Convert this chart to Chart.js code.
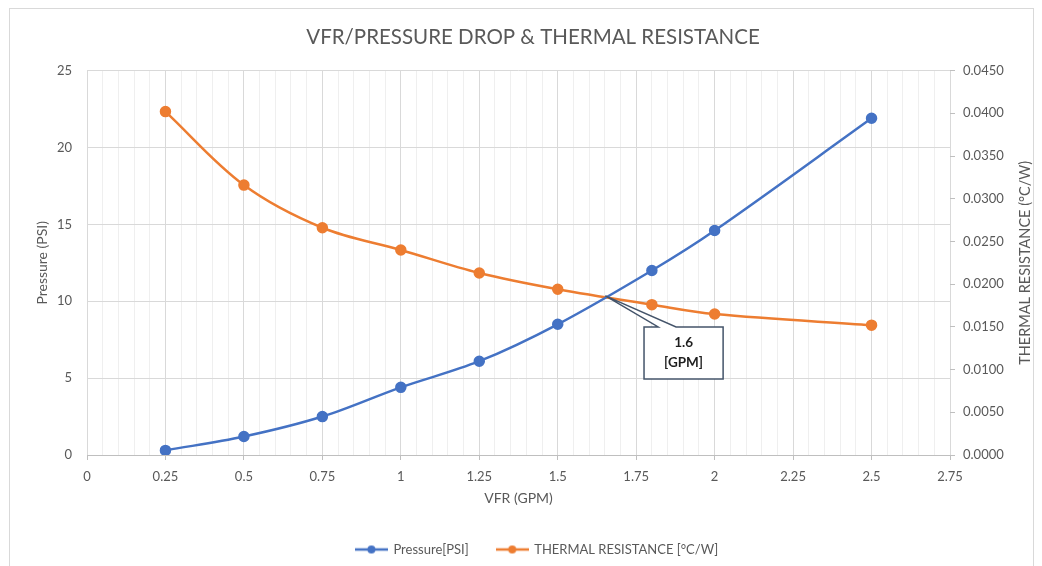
<!DOCTYPE html>
<html>
<head>
<meta charset="utf-8">
<script src="https://cdn.jsdelivr.net/npm/chart.js@4.4.0/dist/chart.umd.min.js"></script>
<style>
  body { margin: 0; background: #ffffff; }
  #frame { position: absolute; left: 9px; top: 8px; width: 1023px; height: 570px; border: 1px solid #d9d9d9; }
  #wrap { position: absolute; left: 0; top: 0; width: 1042px; height: 566px; }
</style>
</head>
<body>
<div id="frame"></div>
<div id="wrap"><canvas id="chart"></canvas></div>
<script>
// values
const vfr = [0.25, 0.5, 0.75, 1, 1.25, 1.5, 1.8, 2, 2.5];           // GPM
const pressure = [0.3, 1.2, 2.5, 4.4, 6.1, 8.5, 12.0, 14.6, 21.9];   // PSI
const thermal = [0.0402, 0.0316, 0.0266, 0.0240, 0.0213, 0.0194, 0.0176, 0.0165, 0.0152]; // °C/W

const BLUE = '#4472C4';
const ORANGE = '#ED7D31';
const GREY_TXT = '#595959';

Chart.defaults.font.family = 'Lato, "Open Sans", sans-serif';
Chart.defaults.color = GREY_TXT;

// legend marker: short line with a dot in the middle, like excel
function legendMark(color) {
  const c = document.createElement('canvas');
  c.width = 33; c.height = 10;
  const g = c.getContext('2d');
  g.strokeStyle = color; g.lineWidth = 2.5;
  g.beginPath(); g.moveTo(0, 5); g.lineTo(33, 5); g.stroke();
  g.fillStyle = color;
  g.beginPath(); g.arc(16.5, 5, 4, 0, Math.PI * 2); g.fill();
  return c;
}

function isMajor(v) {
  return Math.abs(Math.round(v / 0.25) * 0.25 - v) < 1e-6;
}

// callout box pointing at where the curves cross (data units)
const callout = {
  tip: { x: 1.652, y: 10.35 },
  box: { x0: 1.775, x1: 2.027, yTop: 8.33, yBot: 4.95 },
  base: [1.82, 1.877],
  lines: ['1.6', '[GPM]']
};

const calloutPlugin = {
  id: 'callout',
  afterDatasetsDraw(chart) {
    const { ctx } = chart;
    const xs = chart.scales.x, ys = chart.scales.y;
    const X = v => xs.getPixelForValue(v), Y = v => ys.getPixelForValue(v);
    const l = X(callout.box.x0), r = X(callout.box.x1);
    const t = Y(callout.box.yTop), b = Y(callout.box.yBot);
    ctx.save();
    ctx.beginPath();
    ctx.moveTo(l, t);
    ctx.lineTo(X(callout.base[0]), t);
    ctx.lineTo(X(callout.tip.x), Y(callout.tip.y));
    ctx.lineTo(X(callout.base[1]), t);
    ctx.lineTo(r, t);
    ctx.lineTo(r, b);
    ctx.lineTo(l, b);
    ctx.closePath();
    ctx.fillStyle = '#ffffff';
    ctx.fill();
    ctx.strokeStyle = '#44546A';
    ctx.lineWidth = 1.5;
    ctx.stroke();
    ctx.fillStyle = '#1f1f1f';
    ctx.font = 'bold 13.5px Lato, "Open Sans", sans-serif';
    ctx.textAlign = 'center';
    ctx.textBaseline = 'middle';
    const cx = (l + r) / 2, cy = (t + b) / 2;
    ctx.fillText(callout.lines[0], cx, cy - 10);
    ctx.fillText(callout.lines[1], cx, cy + 10);
    ctx.restore();
  }
};

// right axis title reads bottom-to-top in the original
const rightTitlePlugin = {
  id: 'rightTitle',
  afterDraw(chart) {
    const { ctx, chartArea } = chart;
    ctx.save();
    ctx.translate(chartArea.right + 75, (chartArea.top + chartArea.bottom) / 2);
    ctx.rotate(-Math.PI / 2);
    ctx.fillStyle = GREY_TXT;
    ctx.font = '14.5px Lato, "Open Sans", sans-serif';
    ctx.textAlign = 'center';
    ctx.textBaseline = 'middle';
    ctx.fillText('THERMAL RESISTANCE (°C/W)', 0, 0);
    ctx.restore();
  }
};

// excel sits the title and legend a little right of centre
const nudgePlugin = {
  id: 'nudge',
  afterLayout(chart) {
    if (chart.titleBlock) { chart.titleBlock.left += 12; chart.titleBlock.right += 12; }
    if (chart.legend) { chart.legend.left += 16; chart.legend.right += 16; }
  }
};

new Chart(document.getElementById('chart'), {
  type: 'line',
  data: {
    datasets: [
      {
        label: 'Pressure[PSI]',
        data: vfr.map((x, i) => ({ x: x, y: pressure[i] })),
        borderColor: BLUE,
        backgroundColor: BLUE,
        borderWidth: 2.5,
        pointRadius: 4.5,
        pointHoverRadius: 4.5,
        tension: 0.35,
        yAxisID: 'y'
      },
      {
        label: 'THERMAL RESISTANCE [°C/W]',
        data: vfr.map((x, i) => ({ x: x, y: thermal[i] })),
        borderColor: ORANGE,
        backgroundColor: ORANGE,
        borderWidth: 2.5,
        pointRadius: 4.5,
        pointHoverRadius: 4.5,
        tension: 0.35,
        yAxisID: 'y1'
      }
    ]
  },
  options: {
    responsive: true,
    maintainAspectRatio: false,
    animation: false,
    layout: { padding: 0 },
    plugins: {
      title: {
        display: true,
        text: 'VFR/PRESSURE DROP & THERMAL RESISTANCE',
        color: GREY_TXT,
        font: { size: 20.5, weight: 'normal', lineHeight: 1.2 },
        padding: { top: 25, bottom: 21 }
      },
      legend: {
        position: 'bottom',
        labels: {
          usePointStyle: true,
          pointStyleWidth: 31,
          padding: 28,
          font: { size: 13 },
          color: GREY_TXT,
          generateLabels(chart) {
            return chart.data.datasets.map((ds, i) => ({
              text: ds.label,
              pointStyle: legendMark(ds.borderColor),
              fillStyle: ds.borderColor,
              strokeStyle: ds.borderColor,
              lineWidth: 0,
              fontColor: GREY_TXT,
              datasetIndex: i
            }));
          }
        }
      },
      tooltip: { enabled: false }
    },
    scales: {
      x: {
        type: 'linear',
        min: 0,
        max: 2.75,
        ticks: {
          stepSize: 0.05,
          autoSkip: false,
          maxRotation: 0,
          padding: 9,
          font: { size: 13 },
          callback: v => isMajor(v) ? String(Math.round(v * 100) / 100) : ''
        },
        grid: {
          color: c => isMajor(c.tick.value) ? '#d9d9d9' : '#efefef',
          tickColor: c => isMajor(c.tick.value) ? '#bfbfbf' : 'rgba(0,0,0,0)',
          tickLength: 5
        },
        border: { color: '#bfbfbf', width: 1 },
        title: {
          display: true,
          text: 'VFR (GPM)',
          font: { size: 14 },
          color: GREY_TXT,
          padding: { top: 4, bottom: 8 }
        },
        afterFit(s) { s.height = 60; }
      },
      y: {
        position: 'left',
        min: 0,
        max: 25,
        ticks: { stepSize: 5, padding: 15, font: { size: 13 } },
        grid: { color: '#d9d9d9', drawTicks: false },
        border: { display: false },
        title: {
          display: true,
          text: 'Pressure (PSI)',
          font: { size: 14 },
          color: GREY_TXT,
          padding: { top: 34, bottom: 0 }
        },
        afterFit(s) { s.width = 87; }
      },
      y1: {
        position: 'right',
        min: 0,
        max: 0.045,
        ticks: {
          stepSize: 0.005,
          padding: 8,
          font: { size: 13 },
          callback: v => v.toFixed(4)
        },
        grid: { drawOnChartArea: false, tickColor: '#bfbfbf', tickLength: 5 },
        border: { display: false },
        afterFit(s) { s.width = 92; }
      }
    }
  },
  plugins: [calloutPlugin, rightTitlePlugin, nudgePlugin]
});
</script>
</body>
</html>
